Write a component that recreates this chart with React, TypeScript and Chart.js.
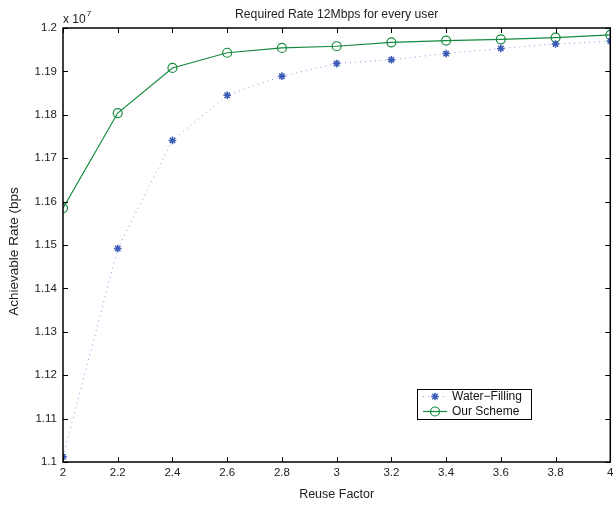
import React, { useEffect, useRef } from "react";
import { Chart, registerables } from "chart.js";

Chart.register(...registerables);

const reuseFactor = [2, 2.2, 2.4, 2.6, 2.8, 3, 3.2, 3.4, 3.6, 3.8, 4];
const waterFilling = [1.1012, 1.1492, 1.1741, 1.1845, 1.1889, 1.1918, 1.1927, 1.1941, 1.1953, 1.1963, 1.197];
const ourScheme = [1.1585, 1.1804, 1.1908, 1.1943, 1.1954, 1.1958, 1.1967, 1.1971, 1.1974, 1.1978, 1.1984];
const xTicks = [2, 2.2, 2.4, 2.6, 2.8, 3, 3.2, 3.4, 3.6, 3.8, 4];
const yTicks = [1.1, 1.11, 1.12, 1.13, 1.14, 1.15, 1.16, 1.17, 1.18, 1.19, 1.2];
const titleText = "Required Rate 12Mbps for every user";
const xTitle = "Reuse Factor";
const yTitle = "Achievable Rate (bps";
const seriesNames = ["Water\u2212Filling", "Our Scheme"];

const FONT = "'Liberation Sans', Arial, Helvetica, sans-serif";
const GREEN = "#138a3e";
const BLUE = "#3a5bb5";
const BLUE_LINE = "#8a9ae0";

const decor = {
  id: "decor",
  afterDraw(chart: any) {
    const ctx = chart.ctx;
    const a = chart.chartArea;
    const xs = chart.scales.x;
    const ys = chart.scales.y;
    ctx.save();
    // box
    ctx.strokeStyle = "#000";
    ctx.lineWidth = 1.5;
    ctx.strokeRect(a.left, a.top, a.right - a.left, a.bottom - a.top);
    // inward ticks
    ctx.lineWidth = 1;
    const tl = 5;
    ctx.beginPath();
    xTicks.forEach((v) => {
      const px = Math.round(xs.getPixelForValue(v)) + 0.5;
      ctx.moveTo(px, a.bottom);
      ctx.lineTo(px, a.bottom - tl);
      ctx.moveTo(px, a.top);
      ctx.lineTo(px, a.top + tl);
    });
    yTicks.forEach((v) => {
      const py = Math.round(ys.getPixelForValue(v)) + 0.5;
      ctx.moveTo(a.left, py);
      ctx.lineTo(a.left + tl, py);
      ctx.moveTo(a.right, py);
      ctx.lineTo(a.right - tl, py);
    });
    ctx.stroke();

    // texts
    ctx.fillStyle = "#222";
    ctx.textAlign = "center";
    ctx.textBaseline = "alphabetic";
    const cx = (a.left + a.right) / 2;
    ctx.font = `12.2px ${FONT}`;
    ctx.fillText(titleText, cx, 18);
    ctx.font = `12.5px ${FONT}`;
    ctx.fillText(xTitle, cx, 498);
    ctx.save();
    ctx.translate(18, 251.5);
    ctx.rotate(-Math.PI / 2);
    ctx.font = `13.5px ${FONT}`;
    ctx.fillText(yTitle, 0, 0);
    ctx.restore();
    // exponent
    ctx.textAlign = "left";
    ctx.font = `12px ${FONT}`;
    ctx.fillText("x 10", a.left, 23);
    const w = ctx.measureText("x 10").width;
    ctx.font = `8px ${FONT}`;
    ctx.fillText("7", a.left + w + 1, 15.5);

    // legend
    const lx = 417, ly = 389, lw = 114, lh = 30;
    ctx.fillStyle = "#fff";
    ctx.fillRect(lx, ly, lw, lh);
    ctx.strokeStyle = "#000";
    ctx.lineWidth = 1;
    ctx.strokeRect(lx + 0.5, ly + 0.5, lw, lh);
    const rows = [396.5, 411.5];
    chart.data.datasets.forEach((ds: any, i: number) => {
      const y = rows[i];
      ctx.save();
      ctx.strokeStyle = ds.borderColor;
      ctx.lineWidth = ds.borderWidth;
      ctx.setLineDash(ds.borderDash || []);
      ctx.beginPath();
      ctx.moveTo(423, y);
      ctx.lineTo(447, y);
      ctx.stroke();
      ctx.restore();
      ctx.save();
      ctx.strokeStyle = ds.pointBorderColor;
      ctx.fillStyle = ds.pointBackgroundColor;
      ctx.lineWidth = ds.pointBorderWidth;
      if (ds.pointStyle === "circle") {
        ctx.beginPath();
        ctx.arc(435, y, ds.pointRadius, 0, Math.PI * 2);
        ctx.fill();
        ctx.stroke();
      } else {
        const r = ds.pointRadius;
        ctx.beginPath();
        ctx.moveTo(435 - r, y); ctx.lineTo(435 + r, y);
        ctx.moveTo(435, y - r); ctx.lineTo(435, y + r);
        const d = r * 0.707;
        ctx.moveTo(435 - d, y - d); ctx.lineTo(435 + d, y + d);
        ctx.moveTo(435 - d, y + d); ctx.lineTo(435 + d, y - d);
        ctx.stroke();
      }
      ctx.restore();
      ctx.fillStyle = "#111";
      ctx.font = `12px ${FONT}`;
      ctx.textAlign = "left";
      ctx.textBaseline = "middle";
      ctx.fillText(ds.label, 452, y);
    });
    ctx.restore();
  },
};

export default function App() {
  const ref = useRef<HTMLCanvasElement | null>(null);
  useEffect(() => {
    if (!ref.current) return;
    const chart = new Chart(ref.current, {
      type: "line",
      data: {
        datasets: [
          {
            label: seriesNames[0],
            data: reuseFactor.map((x, i) => ({ x, y: waterFilling[i] })),
            borderColor: BLUE_LINE,
            borderWidth: 1,
            borderDash: [1, 4],
            pointStyle: "star",
            pointRadius: 3.8,
            pointBorderColor: BLUE,
            pointBackgroundColor: BLUE,
            pointBorderWidth: 1.5,
            tension: 0,
          },
          {
            label: seriesNames[1],
            data: reuseFactor.map((x, i) => ({ x, y: ourScheme[i] })),
            borderColor: GREEN,
            borderWidth: 1.2,
            pointStyle: "circle",
            pointRadius: 4.5,
            pointBorderColor: GREEN,
            pointBackgroundColor: "rgba(255,255,255,0)",
            pointBorderWidth: 1.2,
            tension: 0,
          },
        ],
      },
      options: {
        animation: false,
        responsive: false,
        maintainAspectRatio: false,
        layout: { padding: { left: 0, top: 28, right: 1, bottom: 0 } },
        plugins: { legend: { display: false }, title: { display: false }, tooltip: { enabled: false } },
        scales: {
          x: {
            type: "linear",
            min: 2,
            max: 4,
            grid: { display: false, drawTicks: false },
            border: { display: false },
            afterBuildTicks: (s: any) => { s.ticks = xTicks.map((v) => ({ value: v })); },
            afterFit: (s: any) => { s.height = 46; s.paddingLeft = 0; s.paddingRight = 0; },
            ticks: {
              padding: 4,
              color: "#222",
              font: { family: FONT, size: 11.5 },
              maxRotation: 0,
              autoSkip: false,
              callback: (v: any) => String(Number(Number(v).toFixed(2))),
            },
          },
          y: {
            type: "linear",
            min: 1.1,
            max: 1.2,
            grid: { display: false, drawTicks: false },
            border: { display: false },
            afterBuildTicks: (s: any) => { s.ticks = yTicks.map((v) => ({ value: v })); },
            afterFit: (s: any) => { s.width = 63; s.paddingTop = 0; s.paddingBottom = 0; },
            ticks: {
              padding: 6,
              color: "#222",
              font: { family: FONT, size: 11.5 },
              autoSkip: false,
              callback: (v: any) => String(Number(Number(v).toFixed(3))),
            },
          },
        },
      },
      plugins: [decor],
    });
    return () => chart.destroy();
  }, []);
  return (
    <div style={{ position: "fixed", left: 0, top: 0, width: 616, height: 508, background: "#fff" }}>
      <canvas ref={ref} width={616} height={508} style={{ width: 616, height: 508, display: "block" }} />
    </div>
  );
}
